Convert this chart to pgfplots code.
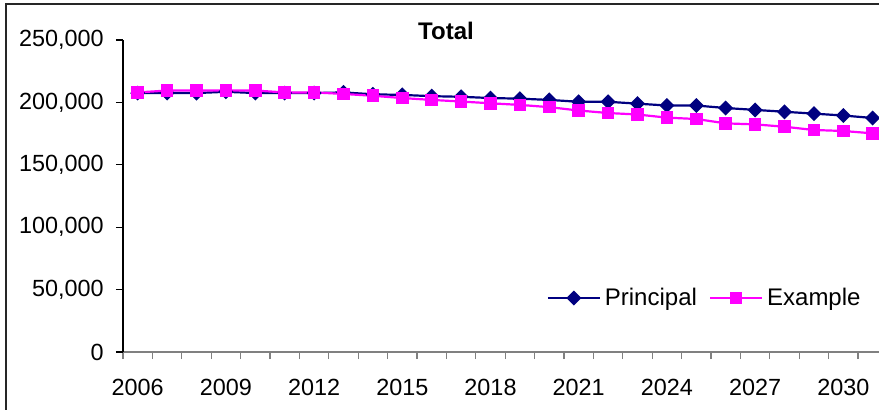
\documentclass[border=0pt]{standalone}
\usepackage{fontspec}
\setmainfont{Liberation Sans}
\usepackage{pgfplots}
\pgfplotsset{compat=1.18}
\definecolor{princ}{RGB}{0,0,128}
\definecolor{expl}{RGB}{255,0,255}

\begin{document}
\begin{tikzpicture}
% picture is 879 x 409 px, 1 px = 0.5pt
\path[use as bounding box, clip] (0pt,0pt) rectangle (439.5pt,204.5pt);
\fill[white] (0pt,0pt) rectangle (439.5pt,204.5pt);
\draw[line width=1pt, black!85] (2.75pt,-20pt) -- (2.75pt,202.5pt) -- (460pt,202.5pt);
\begin{axis}[
    at={(61.5pt,28.5pt)}, anchor=south west,
    scale only axis, width=378pt, height=156pt,
    xmin=-0.5, xmax=25.214, ymin=0, ymax=250000,
    clip=false,
    axis x line*=bottom, axis y line*=left,
    x axis line style={-, gray, line width=0.8pt},
    y axis line style={-, black, line width=0.6pt},
    tick align=outside,
    xtick={0,3,...,24},
    xticklabels={2006,2009,2012,2015,2018,2021,2024,2027,2030},
    major x tick style={draw=none},
    minor xtick={-0.5,0.5,...,25.5},
    minor x tick style={gray, line width=0.6pt},
    minor tick length=3.5pt, major tick length=3.5pt,
    ytick={0,50000,100000,150000,200000,250000},
    y tick style={black, line width=0.6pt},
    scaled y ticks=false,
    tick label style={font=\fontsize{11.7}{14}\selectfont},
    xticklabel style={yshift=-6.6pt},
    yticklabel style={xshift=-2.6pt, /pgf/number format/.cd, fixed, 1000 sep={,}, assume math mode=true},
    legend columns=2,
    legend style={at={(0.552,0.173)}, anchor=west, draw=none, fill=none,
        font=\fontsize{12}{14}\selectfont,
        /tikz/every even column/.append style={column sep=4pt}},
    legend image code/.code={\draw[mark repeat=2,mark phase=2,#1] plot coordinates {(0pt,0pt)(13pt,0pt)(26pt,0pt)};},
]
\addplot[color=princ, line width=1.1pt, mark=square*, mark size=2.1pt,
    mark options={rotate=45, fill=princ, solid}] coordinates {
    (0,207500) (1,207500) (2,207500) (3,208500) (4,207500) (5,207500)
    (6,207500) (7,208000) (8,206500) (9,206000) (10,205000) (11,204500)
    (12,203500) (13,203000) (14,202000) (15,200500) (16,200500) (17,199000)
    (18,197500) (19,197500) (20,195500) (21,194000) (22,192500) (23,191000)
    (24,189500) (25,187500)
};
\addplot[color=expl, line width=1.1pt, mark=square*, mark size=2.6pt,
    mark options={fill=expl, solid}] coordinates {
    (0,208000) (1,209500) (2,209500) (3,209500) (4,209500) (5,208000)
    (6,208000) (7,206800) (8,205300) (9,203500) (10,202000) (11,200700)
    (12,199300) (13,198000) (14,196200) (15,193500) (16,191500) (17,190300)
    (18,187800) (19,186700) (20,183200) (21,182400) (22,180500) (23,177900)
    (24,177100) (25,175200)
};
\legend{Principal, Example}
\end{axis}
\node[font=\bfseries\fontsize{12}{14}\selectfont] at (223pt,189pt) {Total};
\end{tikzpicture}
\end{document}
